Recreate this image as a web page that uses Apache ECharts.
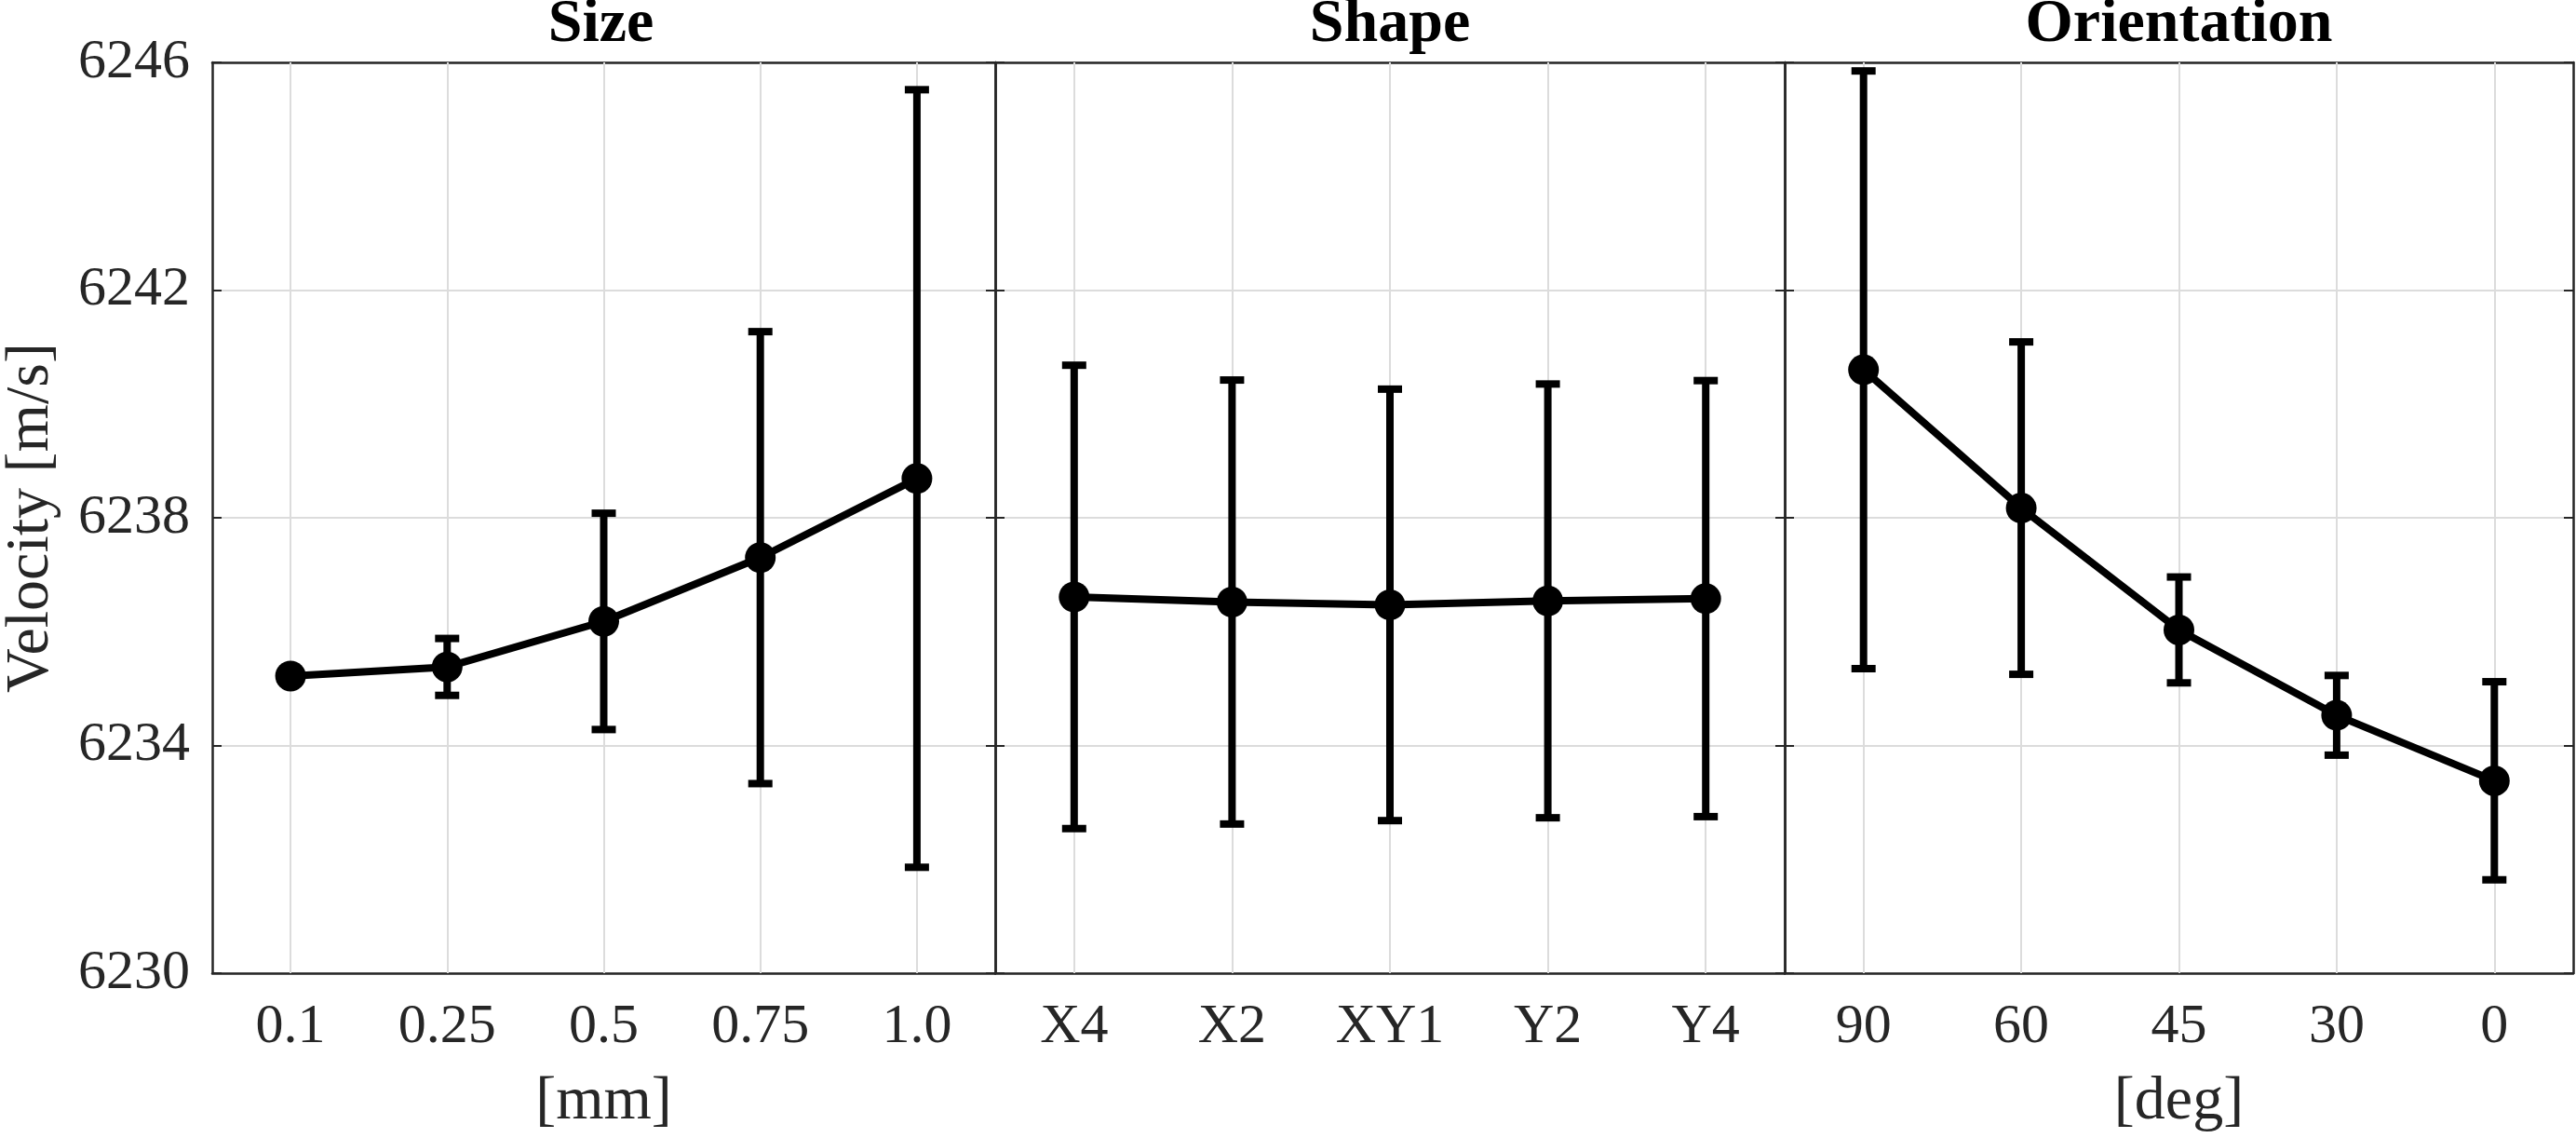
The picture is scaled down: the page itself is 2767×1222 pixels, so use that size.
<!DOCTYPE html>
<html>
<head>
<meta charset="utf-8">
<script src="https://cdn.jsdelivr.net/npm/echarts@6/dist/echarts.min.js"></script>
<style>
html,body{margin:0;padding:0;background:#fff;}
#chart{width:2767px;height:1222px;}
</style>
</head>
<body>
<div id="chart"></div>
<script>
// ---- data ----
var panelTitles = ['Size', 'Shape', 'Orientation'];
var axisNames = ['[mm]', '', '[deg]'];
var yTicks = [6230, 6234, 6238, 6242, 6246];

var sizeCats = ['0.1', '0.25', '0.5', '0.75', '1.0'];
var sizeMean = [6235.22, 6235.38, 6236.18, 6237.30, 6238.69];
var sizeErr  = [0, 0.50, 1.90, 3.97, 6.83];

var shapeCats = ['X4', 'X2', 'XY1', 'Y2', 'Y4'];
var shapeMean = [6236.61, 6236.52, 6236.47, 6236.54, 6236.58];
var shapeErr  = [4.07, 3.90, 3.79, 3.81, 3.83];

var orientCats = ['90', '60', '45', '30', '0'];
var orientMean = [6240.60, 6238.17, 6236.03, 6234.53, 6233.38];
var orientErr  = [5.25, 2.92, 0.93, 0.70, 1.74];

// ---- layout ----
var FONT = 'Liberation Serif';
var AX = '#262626';
var GRIDC = '#dcdcdc';
var panels = [
  {cats: sizeCats, mean: sizeMean, err: sizeErr, left: 222, width: 847},
  {cats: shapeCats, mean: shapeMean, err: shapeErr, left: 1069, width: 848},
  {cats: orientCats, mean: orientMean, err: orientErr, left: 1917, width: 847}
];
var TOP = 67, BOTTOM = 177;

function errRender(params, api) {
  var i = api.value(0), lo = api.value(1), hi = api.value(2);
  if (hi === lo) return null;
  var p1 = api.coord([i, hi]), p2 = api.coord([i, lo]);
  var hw = 13;
  return {
    type: 'group',
    children: [
      {type: 'line', shape: {x1: p1[0], y1: p1[1], x2: p2[0], y2: p2[1]}, style: {stroke: '#000', lineWidth: 8}},
      {type: 'line', shape: {x1: p1[0] - hw, y1: p1[1], x2: p1[0] + hw, y2: p1[1]}, style: {stroke: '#000', lineWidth: 8}},
      {type: 'line', shape: {x1: p2[0] - hw, y1: p2[1], x2: p2[0] + hw, y2: p2[1]}, style: {stroke: '#000', lineWidth: 8}}
    ]
  };
}

var grids = [], xAxes = [], yAxes = [], series = [], titles = [];
panels.forEach(function (p, k) {
  grids.push({left: p.left, width: p.width, top: TOP, bottom: BOTTOM, containLabel: false});
  titles.push({
    text: panelTitles[k], left: p.left + p.width / 2, top: -6, padding: 0, textAlign: 'center',
    textStyle: {fontFamily: FONT, fontWeight: 'bold', fontSize: 66, color: '#000'}
  });
  // bottom x axis
  xAxes.push({
    type: 'category', gridIndex: k, data: p.cats, position: 'bottom', boundaryGap: true,
    name: axisNames[k], nameLocation: 'middle', nameGap: 106,
    nameTextStyle: {fontFamily: FONT, fontSize: 66, color: AX},
    axisLine: {show: true, lineStyle: {color: AX, width: 2.5}},
    axisTick: {show: true, inside: true, alignWithLabel: true, length: 10, lineStyle: {color: AX, width: 2}},
    axisLabel: {show: true, margin: 28, fontFamily: FONT, fontSize: 60, color: AX},
    splitLine: {show: false}
  });
  // top x axis (box)
  xAxes.push({
    type: 'category', gridIndex: k, data: p.cats, position: 'top', boundaryGap: true,
    axisLine: {show: true, lineStyle: {color: AX, width: 2.5}},
    axisTick: {show: true, inside: true, alignWithLabel: true, length: 10, lineStyle: {color: AX, width: 2}},
    axisLabel: {show: false}, splitLine: {show: false}
  });
  // left y axis
  yAxes.push({
    type: 'value', gridIndex: k, position: 'left', min: yTicks[0], max: yTicks[yTicks.length - 1], interval: 4,
    name: k === 0 ? 'Velocity [m/s]' : '', nameLocation: 'middle', nameGap: 161,
    nameTextStyle: {fontFamily: FONT, fontSize: 66, color: AX},
    axisLine: {show: true, lineStyle: {color: AX, width: 2.5}},
    axisTick: {show: true, inside: true, length: 10, lineStyle: {color: AX, width: 2}},
    axisLabel: {show: k === 0, margin: 24, fontFamily: FONT, fontSize: 60, color: AX,
      formatter: function (v) { return String(v); }},
    splitLine: {show: true, lineStyle: {color: GRIDC, width: 2}}
  });
  // right y axis (box)
  yAxes.push({
    type: 'value', gridIndex: k, position: 'right', min: yTicks[0], max: yTicks[yTicks.length - 1], interval: 4,
    axisLine: {show: true, lineStyle: {color: AX, width: 2.5}},
    axisTick: {show: true, inside: true, length: 10, lineStyle: {color: AX, width: 2}},
    axisLabel: {show: false}, splitLine: {show: false}
  });

  var errData = p.mean.map(function (m, i) { return [i, m - p.err[i], m + p.err[i]]; });
  series.push({
    type: 'custom', xAxisIndex: 2 * k, yAxisIndex: 2 * k, renderItem: errRender,
    data: errData, encode: {x: 0, y: [1, 2]}, z: 3, silent: true, animation: false
  });
  series.push({
    type: 'line', xAxisIndex: 2 * k, yAxisIndex: 2 * k, data: p.mean,
    symbol: 'circle', symbolSize: 33, showSymbol: true,
    lineStyle: {color: '#000', width: 8}, itemStyle: {color: '#000'},
    z: 4, silent: true, animation: false,
    markLine: {
      silent: true, symbol: ['none', 'none'], z: 1, animation: false,
      label: {show: false},
      lineStyle: {color: GRIDC, width: 2, type: 'solid'},
      emphasis: {disabled: true},
      data: p.cats.map(function (c, i) { return {xAxis: i}; })
    }
  });
});

var chart = echarts.init(document.getElementById('chart'), null, {renderer: 'canvas'});
chart.setOption({
  backgroundColor: '#fff',
  animation: false,
  title: titles,
  grid: grids,
  xAxis: xAxes,
  yAxis: yAxes,
  series: series
});
</script>
</body>
</html>
